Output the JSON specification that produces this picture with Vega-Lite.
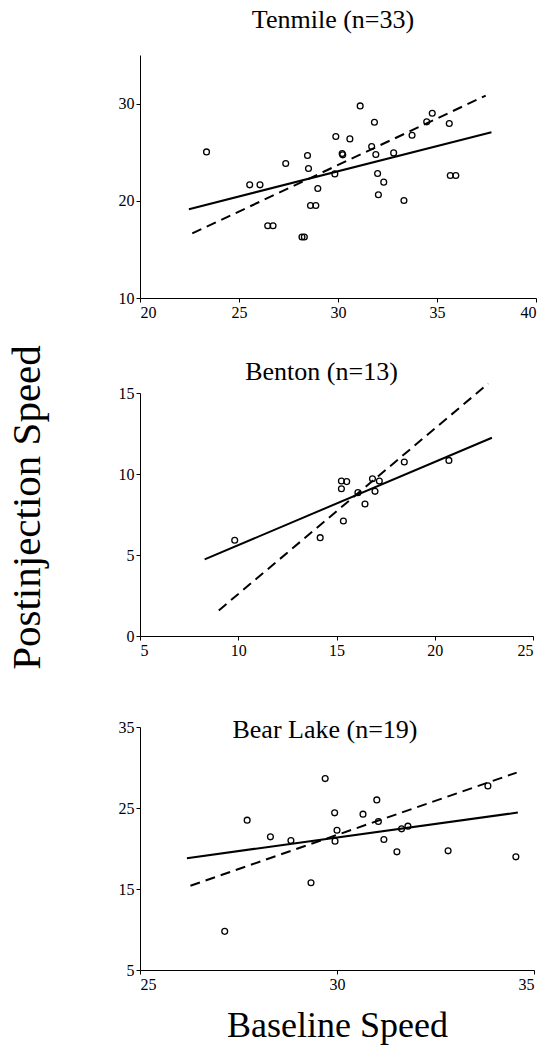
{
  "$schema": "https://vega.github.io/schema/vega-lite/v6.json",
  "padding": {"left": 6, "top": 7, "right": 5, "bottom": 5},
  "spacing": 24,
  "datasets": {
    "points": [
      {"site": "Tenmile", "x": 23.36, "y": 25.03},
      {"site": "Tenmile", "x": 25.54, "y": 21.64},
      {"site": "Tenmile", "x": 26.06, "y": 21.64},
      {"site": "Tenmile", "x": 26.45, "y": 17.43},
      {"site": "Tenmile", "x": 26.72, "y": 17.43},
      {"site": "Tenmile", "x": 27.36, "y": 23.84},
      {"site": "Tenmile", "x": 28.18, "y": 16.27},
      {"site": "Tenmile", "x": 28.3, "y": 16.27},
      {"site": "Tenmile", "x": 28.46, "y": 24.66},
      {"site": "Tenmile", "x": 28.51, "y": 23.32},
      {"site": "Tenmile", "x": 28.61, "y": 19.52},
      {"site": "Tenmile", "x": 28.88, "y": 19.52},
      {"site": "Tenmile", "x": 28.98, "y": 21.27},
      {"site": "Tenmile", "x": 29.84, "y": 22.77},
      {"site": "Tenmile", "x": 29.89, "y": 26.61},
      {"site": "Tenmile", "x": 30.21, "y": 24.86},
      {"site": "Tenmile", "x": 30.24, "y": 24.73},
      {"site": "Tenmile", "x": 30.6, "y": 26.37},
      {"site": "Tenmile", "x": 31.12, "y": 29.76},
      {"site": "Tenmile", "x": 31.7, "y": 25.58},
      {"site": "Tenmile", "x": 31.84, "y": 28.08},
      {"site": "Tenmile", "x": 31.91, "y": 24.76},
      {"site": "Tenmile", "x": 32.0, "y": 22.81},
      {"site": "Tenmile", "x": 32.04, "y": 20.62},
      {"site": "Tenmile", "x": 32.31, "y": 21.92},
      {"site": "Tenmile", "x": 32.81, "y": 24.93},
      {"site": "Tenmile", "x": 33.33, "y": 20.03},
      {"site": "Tenmile", "x": 33.74, "y": 26.75},
      {"site": "Tenmile", "x": 34.48, "y": 28.12},
      {"site": "Tenmile", "x": 34.76, "y": 29.01},
      {"site": "Tenmile", "x": 35.62, "y": 27.95},
      {"site": "Tenmile", "x": 35.67, "y": 22.6},
      {"site": "Tenmile", "x": 35.95, "y": 22.6},
      {"site": "Benton", "x": 9.82, "y": 5.91},
      {"site": "Benton", "x": 14.17, "y": 6.07},
      {"site": "Benton", "x": 15.25, "y": 9.57},
      {"site": "Benton", "x": 15.25, "y": 9.09},
      {"site": "Benton", "x": 15.52, "y": 9.53},
      {"site": "Benton", "x": 15.35, "y": 7.1},
      {"site": "Benton", "x": 16.09, "y": 8.85},
      {"site": "Benton", "x": 16.45, "y": 8.15},
      {"site": "Benton", "x": 16.83, "y": 9.71},
      {"site": "Benton", "x": 16.96, "y": 8.93},
      {"site": "Benton", "x": 17.18, "y": 9.57},
      {"site": "Benton", "x": 18.45, "y": 10.74},
      {"site": "Benton", "x": 20.72, "y": 10.84},
      {"site": "Bear Lake", "x": 27.15, "y": 9.77},
      {"site": "Bear Lake", "x": 27.72, "y": 23.5},
      {"site": "Bear Lake", "x": 28.31, "y": 21.44},
      {"site": "Bear Lake", "x": 28.83, "y": 20.99},
      {"site": "Bear Lake", "x": 29.34, "y": 15.77},
      {"site": "Bear Lake", "x": 29.7, "y": 28.63},
      {"site": "Bear Lake", "x": 29.94, "y": 24.4},
      {"site": "Bear Lake", "x": 29.95, "y": 20.91},
      {"site": "Bear Lake", "x": 30.0, "y": 22.26},
      {"site": "Bear Lake", "x": 30.66, "y": 24.24},
      {"site": "Bear Lake", "x": 31.01, "y": 26.0},
      {"site": "Bear Lake", "x": 31.05, "y": 23.33},
      {"site": "Bear Lake", "x": 31.19, "y": 21.11},
      {"site": "Bear Lake", "x": 31.52, "y": 19.59},
      {"site": "Bear Lake", "x": 31.64, "y": 22.43},
      {"site": "Bear Lake", "x": 31.8, "y": 22.76},
      {"site": "Bear Lake", "x": 32.82, "y": 19.71},
      {"site": "Bear Lake", "x": 33.83, "y": 27.73},
      {"site": "Bear Lake", "x": 34.54, "y": 18.97}
    ],
    "fits": [
      {"site": "Tenmile", "fit": "solid", "x": 22.47, "y": 19.14},
      {"site": "Tenmile", "fit": "solid", "x": 37.75, "y": 27.05},
      {"site": "Tenmile", "fit": "dashed", "x": 22.64, "y": 16.64},
      {"site": "Tenmile", "fit": "dashed", "x": 37.46, "y": 30.82},
      {"site": "Benton", "fit": "solid", "x": 8.29, "y": 4.73},
      {"site": "Benton", "fit": "solid", "x": 22.91, "y": 12.24},
      {"site": "Benton", "fit": "dashed", "x": 9.01, "y": 1.58},
      {"site": "Benton", "fit": "dashed", "x": 22.72, "y": 15.58},
      {"site": "Bear Lake", "fit": "solid", "x": 26.19, "y": 18.81},
      {"site": "Bear Lake", "fit": "solid", "x": 34.59, "y": 24.44},
      {"site": "Bear Lake", "fit": "dashed", "x": 26.28, "y": 15.4},
      {"site": "Bear Lake", "fit": "dashed", "x": 34.56, "y": 29.37}
    ]
  },
  "vconcat": [
    {
      "width": 396,
      "height": 243,
      "title": {"text": "Tenmile (n=33)", "baseline": "alphabetic", "offset": 1, "dx": -5},
      "encoding": {
        "x": {"field": "x", "type": "quantitative", "scale": {"domain": [20, 40]}, "axis": {"values": [20, 25, 30, 35, 40], "title": null}},
        "y": {"field": "y", "type": "quantitative", "scale": {"domain": [10, 35]}, "axis": {"values": [10, 20, 30], "title": null}}
      },
      "layer": [
        {"data": {"name": "points"}, "transform": [{"filter": "datum.site === 'Tenmile'"}],
         "mark": {"type": "point", "shape": "circle", "filled": false, "stroke": "black", "strokeWidth": 1.3, "size": 34, "opacity": 1}},
        {"data": {"name": "fits"}, "transform": [{"filter": "datum.site === 'Tenmile' && datum.fit === 'solid'"}],
         "mark": {"type": "line", "color": "black", "strokeWidth": 2}},
        {"data": {"name": "fits"}, "transform": [{"filter": "datum.site === 'Tenmile' && datum.fit === 'dashed'"}],
         "mark": {"type": "line", "color": "black", "strokeWidth": 2, "strokeDash": [10, 6]}}
      ]
    },
    {
      "width": 393,
      "height": 243,
      "title": {"text": "Benton (n=13)", "baseline": "alphabetic", "offset": -61, "dx": -15},
      "encoding": {
        "x": {"field": "x", "type": "quantitative", "scale": {"domain": [5, 25]}, "axis": {"values": [5, 10, 15, 20, 25], "title": "\u00a0", "titleFontSize": 26, "titlePadding": 9}},
        "y": {"field": "y", "type": "quantitative", "scale": {"domain": [0, 15]}, "axis": {"values": [0, 5, 10, 15], "title": "Postinjection Speed", "titleFontSize": 41, "titlePadding": 70, "titleY": 114}}
      },
      "layer": [
        {"data": {"name": "points"}, "transform": [{"filter": "datum.site === 'Benton'"}],
         "mark": {"type": "point", "shape": "circle", "filled": false, "stroke": "black", "strokeWidth": 1.3, "size": 34, "opacity": 1}},
        {"data": {"name": "fits"}, "transform": [{"filter": "datum.site === 'Benton' && datum.fit === 'solid'"}],
         "mark": {"type": "line", "color": "black", "strokeWidth": 2}},
        {"data": {"name": "fits"}, "transform": [{"filter": "datum.site === 'Benton' && datum.fit === 'dashed'"}],
         "mark": {"type": "line", "color": "black", "strokeWidth": 2, "strokeDash": [10, 6]}}
      ]
    },
    {
      "width": 394,
      "height": 243,
      "title": {"text": "Bear Lake (n=19)", "baseline": "alphabetic", "offset": -45, "dx": -12},
      "encoding": {
        "x": {"field": "x", "type": "quantitative", "scale": {"domain": [25, 35]}, "axis": {"values": [25, 30, 35], "title": "Baseline Speed", "titleFontSize": 36, "titlePadding": 16}},
        "y": {"field": "y", "type": "quantitative", "scale": {"domain": [5, 35]}, "axis": {"values": [5, 15, 25, 35], "title": null}}
      },
      "layer": [
        {"data": {"name": "points"}, "transform": [{"filter": "datum.site === 'Bear Lake'"}],
         "mark": {"type": "point", "shape": "circle", "filled": false, "stroke": "black", "strokeWidth": 1.3, "size": 34, "opacity": 1}},
        {"data": {"name": "fits"}, "transform": [{"filter": "datum.site === 'Bear Lake' && datum.fit === 'solid'"}],
         "mark": {"type": "line", "color": "black", "strokeWidth": 2}},
        {"data": {"name": "fits"}, "transform": [{"filter": "datum.site === 'Bear Lake' && datum.fit === 'dashed'"}],
         "mark": {"type": "line", "color": "black", "strokeWidth": 2, "strokeDash": [10, 6]}}
      ]
    }
  ],
  "config": {
    "font": "Liberation Serif",
    "view": {"stroke": null},
    "axis": {"grid": false, "domainColor": "black", "tickColor": "black", "labelColor": "black", "labelFontSize": 16, "labelFont": "Liberation Serif", "tickSize": 4, "labelPadding": 2, "titleColor": "black", "titleFont": "Liberation Serif", "titleFontWeight": "normal"},
    "title": {"fontSize": 26, "fontWeight": "normal", "color": "black", "font": "Liberation Serif"}
  }
}
